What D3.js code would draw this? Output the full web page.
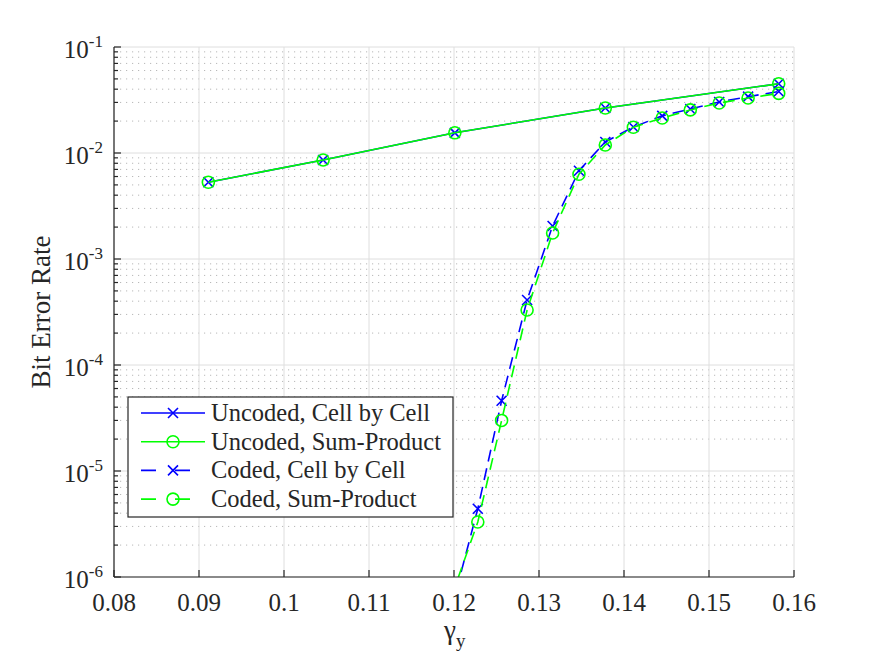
<!DOCTYPE html>
<html><head><meta charset="utf-8">
<script src="https://cdn.jsdelivr.net/npm/d3@7"></script>
<style>body{margin:0;background:#fff}svg{display:block}text{font-family:"Liberation Serif","Times New Roman",serif;fill:#262626}</style>
</head><body>
<svg id="c" width="875" height="657"></svg>
<script>
const uncodedX = [0.0911, 0.1046, 0.1201, 0.1378, 0.1582];
const uncodedCbC = [5.3e-3, 8.6e-3, 1.55e-2, 2.66e-2, 4.5e-2];
const uncodedSP = [5.3e-3, 8.6e-3, 1.55e-2, 2.66e-2, 4.5e-2];
const codedX = [0.1197, 0.1228, 0.1256, 0.1286, 0.1316, 0.1347, 0.1378, 0.1411, 0.1445, 0.1478, 0.1512, 0.1546, 0.1582];
const codedCbC = [5.0e-7, 4.4e-6, 4.6e-5, 4.1e-4, 2.05e-3, 6.8e-3, 1.27e-2, 1.76e-2, 2.24e-2, 2.6e-2, 3.03e-2, 3.4e-2, 3.8e-2];
const codedSP = [6.5e-7, 3.3e-6, 3.0e-5, 3.3e-4, 1.76e-3, 6.3e-3, 1.19e-2, 1.75e-2, 2.14e-2, 2.55e-2, 2.96e-2, 3.3e-2, 3.65e-2];
const xTicks = [0.08, 0.09, 0.1, 0.11, 0.12, 0.13, 0.14, 0.15, 0.16];
const xTickLabels = ["0.08", "0.09", "0.1", "0.11", "0.12", "0.13", "0.14", "0.15", "0.16"];
const yExps = [-6, -5, -4, -3, -2, -1];
const seriesNames = ["Uncoded, Cell by Cell", "Uncoded, Sum-Product", "Coded, Cell by Cell", "Coded, Sum-Product"];

const svg = d3.select("#c");
const L = 114, T = 47, W = 680, H = 530;
const x = d3.scaleLinear().domain([0.08, 0.16]).range([L, L + W]);
const y = d3.scaleLog().domain([1e-6, 1e-1]).range([T + H, T]);

// minor grid (y)
const minors = [];
yExps.slice(0, -1).forEach(e => { for (let k = 2; k <= 9; k++) minors.push(k * Math.pow(10, e)); });
svg.append("g").selectAll("line").data(minors).join("line")
  .attr("x1", L).attr("x2", L + W).attr("y1", d => y(d)).attr("y2", d => y(d))
  .attr("stroke", "#b8b8b8").attr("stroke-width", 1).attr("stroke-dasharray", "1.2,4.8");
// major grid
const gm = svg.append("g").attr("stroke", "#dedede").attr("stroke-width", 1);
gm.selectAll(".gx").data(xTicks).join("line").attr("class", "gx")
  .attr("x1", d => x(d)).attr("x2", d => x(d)).attr("y1", T).attr("y2", T + H);
gm.selectAll(".gy").data(yExps).join("line").attr("class", "gy")
  .attr("x1", L).attr("x2", L + W).attr("y1", d => y(Math.pow(10, d))).attr("y2", d => y(Math.pow(10, d)));

// clip
svg.append("defs").append("clipPath").attr("id", "clip").append("rect")
  .attr("x", L).attr("y", T).attr("width", W).attr("height", H);

const line = d3.line().x(d => x(d[0])).y(d => y(d[1]));
const plot = svg.append("g").attr("clip-path", "url(#clip)");
const series = [
  {xs: uncodedX, ys: uncodedCbC, color: "#0000ff", dash: null, mk: "x"},
  {xs: uncodedX, ys: uncodedSP, color: "#00ff00", dash: null, mk: "o"},
  {xs: codedX, ys: codedCbC, color: "#0000ff", dash: "12,7", mk: "x"},
  {xs: codedX, ys: codedSP, color: "#00ff00", dash: "12,7", mk: "o"}
];
function marker(g, cx, cy, s) {
  if (s.mk === "x") {
    const r = 5;
    g.append("path").attr("d", `M${cx - r},${cy - r}L${cx + r},${cy + r}M${cx - r},${cy + r}L${cx + r},${cy - r}`)
      .attr("stroke", s.color).attr("stroke-width", 1.6).attr("fill", "none");
  } else {
    g.append("circle").attr("cx", cx).attr("cy", cy).attr("r", 6)
      .attr("stroke", s.color).attr("stroke-width", 1.6).attr("fill", "none");
  }
}
series.forEach(s => {
  const pts = s.xs.map((v, i) => [v, s.ys[i]]);
  plot.append("path").attr("d", line(pts)).attr("fill", "none").attr("stroke", s.color)
    .attr("stroke-width", 1.6).attr("stroke-dasharray", s.dash);
  pts.forEach(p => { if (p[1] >= 1e-6) marker(plot, x(p[0]), y(p[1]), s); });
});

// axes
const ax = svg.append("g").attr("stroke", "#262626").attr("stroke-width", 1.2);
ax.append("line").attr("x1", L).attr("x2", L + W).attr("y1", T + H).attr("y2", T + H);
ax.append("line").attr("x1", L).attr("x2", L).attr("y1", T).attr("y2", T + H);
xTicks.forEach(t => ax.append("line").attr("x1", x(t)).attr("x2", x(t)).attr("y1", T + H).attr("y2", T + H - 7));
yExps.forEach(e => ax.append("line").attr("x1", L).attr("x2", L + 7).attr("y1", y(Math.pow(10, e))).attr("y2", y(Math.pow(10, e))));
minors.forEach(m => ax.append("line").attr("x1", L).attr("x2", L + 4).attr("y1", y(m)).attr("y2", y(m)));

// tick labels
svg.append("g").selectAll("text").data(xTicks).join("text")
  .attr("x", d => x(d)).attr("y", T + H + 34).attr("text-anchor", "middle")
  .attr("font-size", 25).text((d, i) => xTickLabels[i]);
yExps.forEach(e => {
  const t = svg.append("text").attr("x", 103).attr("y", y(Math.pow(10, e)) + 11)
    .attr("text-anchor", "end").attr("font-size", 25);
  t.append("tspan").text("10");
  t.append("tspan").attr("font-size", 17).attr("dy", -11).text("-" + Math.abs(e));
});

// axis labels
svg.append("text").attr("transform", `translate(50,${T + H / 2}) rotate(-90)`)
  .attr("text-anchor", "middle").attr("font-size", 27).text("Bit Error Rate");
const xl = svg.append("text").attr("x", 444).attr("y", 639).attr("font-size", 27);
xl.append("tspan").text("γ");
xl.append("tspan").attr("font-size", 19).attr("dy", 8).text("y");

// legend
const lg = svg.append("g");
lg.append("rect").attr("x", 128).attr("y", 397).attr("width", 325).attr("height", 120)
  .attr("fill", "#fff").attr("stroke", "#262626").attr("stroke-width", 1.2);
series.forEach((s, i) => {
  const cy = 413 + i * 28.7;
  lg.append("line").attr("x1", 141).attr("x2", 205).attr("y1", cy).attr("y2", cy)
    .attr("stroke", s.color).attr("stroke-width", 1.6).attr("stroke-dasharray", s.dash ? "15,19" : null);
  marker(lg, 173, cy, s);
  lg.append("text").attr("x", 211).attr("y", cy + 8).attr("font-size", 24.5).text(seriesNames[i]);
});
</script>
</body></html>
